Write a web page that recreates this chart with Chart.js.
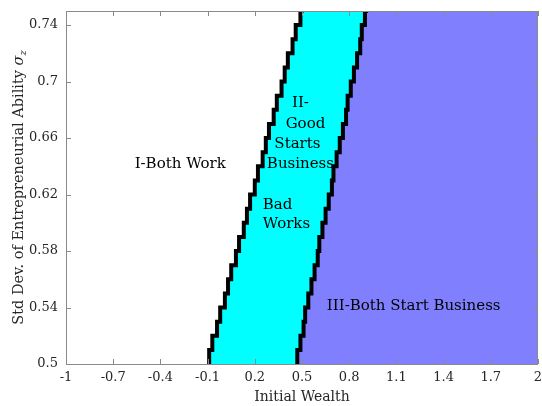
<!DOCTYPE html>
<html>
<head>
<meta charset="utf-8">
<script src="https://cdn.jsdelivr.net/npm/chart.js@4"></script>
<style>
  html, body { margin: 0; padding: 0; background: #fff; }
</style>
</head>
<body>
<canvas id="regionChart" width="542" height="406"></canvas>
<script>
// sigma grid and the two boundaries (wealth at each sigma level)
var sigmaLevels = [0.5, 0.51, 0.52, 0.53, 0.54, 0.55, 0.56, 0.57, 0.58, 0.59, 0.6, 0.61, 0.62,
                   0.63, 0.64, 0.65, 0.66, 0.67, 0.68, 0.69, 0.7, 0.71, 0.72, 0.73, 0.74, 0.75];
var leftEdge = [-0.09, -0.07, -0.04, -0.02, 0.01, 0.03, 0.05, 0.08, 0.10, 0.13, 0.15, 0.17, 0.20,
                0.22, 0.25, 0.27, 0.29, 0.32, 0.34, 0.37, 0.39, 0.41, 0.44, 0.46, 0.49, 0.51];
var rightEdge = [0.47, 0.49, 0.51, 0.52, 0.54, 0.56, 0.58, 0.60, 0.61, 0.63, 0.65, 0.67, 0.69,
                 0.70, 0.72, 0.74, 0.76, 0.78, 0.79, 0.81, 0.83, 0.85, 0.87, 0.88, 0.90, 0.92];

var xTicks = [-1, -0.7, -0.4, -0.1, 0.2, 0.5, 0.8, 1.1, 1.4, 1.7, 2];
var yTicks = [0.5, 0.54, 0.58, 0.62, 0.66, 0.7, 0.74];
var xMin = -1, xMax = 2, yMin = 0.5, yMax = 0.75;

var regionLabels = [
    { text: "I-Both Work", x: -0.274, y: 0.6416 },
    { text: "II-", x: 0.49, y: 0.6848 },
    { text: "Good", x: 0.522, y: 0.670 },
    { text: "Starts", x: 0.471, y: 0.6558 },
    { text: "Business", x: 0.49, y: 0.6416 },
    { text: "Bad", x: 0.344, y: 0.6126 },
    { text: "Works", x: 0.401, y: 0.5992 },
    { text: "III-Both Start Business", x: 1.21, y: 0.541 }
];

var serif = "'DejaVu Serif', 'Liberation Serif', serif";
var textColor = "#262626";

// staircase path through the boundary values
function stairs(xs) {
    var pts = [];
    for (var i = 0; i < xs.length - 1; i++) {
        pts.push({ x: xs[i], y: sigmaLevels[i] });
        pts.push({ x: xs[i], y: sigmaLevels[i + 1] });
    }
    pts.push({ x: xs[xs.length - 1], y: sigmaLevels[sigmaLevels.length - 1] });
    return pts;
}

var leftPts = stairs(leftEdge);
var rightPts = stairs(rightEdge);
var cyanShape = leftPts.concat(rightPts.slice().reverse());
var blueShape = rightPts.concat([{ x: xMax, y: yMax }, { x: xMax, y: yMin }]);

var decorPlugin = {
    id: "decor",
    afterDraw: function(chart) {
        var ctx = chart.ctx;
        var a = chart.chartArea;
        var xs = chart.scales.x, ys = chart.scales.y;
        ctx.save();

        // inward ticks
        ctx.strokeStyle = "#8a8a8a";
        ctx.lineWidth = 1;
        ctx.beginPath();
        xTicks.forEach(function(v) {
            var px = Math.round(xs.getPixelForValue(v)) + 0.5;
            ctx.moveTo(px, a.bottom); ctx.lineTo(px, a.bottom - 5);
            ctx.moveTo(px, a.top); ctx.lineTo(px, a.top + 5);
        });
        yTicks.forEach(function(v) {
            var py = Math.round(ys.getPixelForValue(v)) + 0.5;
            ctx.moveTo(a.left, py); ctx.lineTo(a.left + 5, py);
            ctx.moveTo(a.right, py); ctx.lineTo(a.right - 5, py);
        });
        ctx.stroke();
        ctx.strokeRect(Math.round(a.left) + 0.5, Math.round(a.top) + 0.5,
                       Math.round(a.right - a.left) - 1, Math.round(a.bottom - a.top));

        // region labels
        ctx.fillStyle = "#000";
        ctx.font = "15px " + serif;
        ctx.textAlign = "center";
        ctx.textBaseline = "middle";
        regionLabels.forEach(function(l) {
            ctx.fillText(l.text, xs.getPixelForValue(l.x), ys.getPixelForValue(l.y));
        });

        // y axis title with subscript
        var main = "Std Dev. of Entrepreneurial Ability ";
        var f1 = "14.5px " + serif, f2 = "italic 14.5px " + serif, f3 = "italic 10px " + serif;
        ctx.font = f1; var w1 = ctx.measureText(main).width;
        ctx.font = f2; var w2 = ctx.measureText("σ").width;
        ctx.font = f3; var w3 = ctx.measureText("z").width;
        var total = w1 + w2 + w3;
        ctx.translate(19, (a.top + a.bottom) / 2);
        ctx.rotate(-Math.PI / 2);
        ctx.fillStyle = textColor;
        ctx.textAlign = "left";
        ctx.textBaseline = "middle";
        var start = -total / 2;
        ctx.font = f1; ctx.fillText(main, start, 0);
        ctx.font = f2; ctx.fillText("σ", start + w1, 0);
        ctx.font = f3; ctx.fillText("z", start + w1 + w2, 4);
        ctx.restore();
    }
};

var ctx1 = document.getElementById("regionChart");

var chart1 = new Chart(ctx1, {
    type: "scatter",
    data: {
        datasets: [
            {
                label: "left boundary",
                data: leftPts,
                showLine: true,
                borderColor: "#000",
                borderWidth: 4,
                pointRadius: 0,
                fill: false
            },
            {
                label: "right boundary",
                data: rightPts,
                showLine: true,
                borderColor: "#000",
                borderWidth: 4,
                pointRadius: 0,
                fill: false
            },
            {
                label: "II",
                data: cyanShape,
                showLine: true,
                borderWidth: 0,
                borderColor: "rgba(0,0,0,0)",
                backgroundColor: "#00ffff",
                pointRadius: 0,
                fill: "shape"
            },
            {
                label: "III",
                data: blueShape,
                showLine: true,
                borderWidth: 0,
                borderColor: "rgba(0,0,0,0)",
                backgroundColor: "#8080ff",
                pointRadius: 0,
                fill: "shape"
            }
        ]
    },
    options: {
        responsive: false,
        animation: false,
        devicePixelRatio: 1,
        layout: { padding: { top: 11, right: 4, left: 0, bottom: 0 } },
        plugins: {
            legend: { display: false },
            tooltip: { enabled: false }
        },
        scales: {
            x: {
                type: "linear",
                min: xMin,
                max: xMax,
                afterBuildTicks: function(s) { s.ticks = xTicks.map(function(v) { return { value: v }; }); },
                afterFit: function(s) { s.height = 42; s.paddingLeft = 0; s.paddingRight = 0; },
                grid: { display: false, drawTicks: false },
                border: { display: false },
                ticks: {
                    callback: function(v) { return String(v); },
                    font: { family: serif, size: 13 },
                    color: textColor,
                    padding: 6,
                    maxRotation: 0
                },
                title: {
                    display: true,
                    text: "Initial Wealth",
                    font: { family: serif, size: 14 },
                    color: textColor,
                    padding: { top: 0, bottom: 0 }
                }
            },
            y: {
                type: "linear",
                min: yMin,
                max: yMax,
                afterBuildTicks: function(s) { s.ticks = yTicks.map(function(v) { return { value: v }; }); },
                afterFit: function(s) { s.width = 66; s.paddingTop = 0; s.paddingBottom = 0; },
                grid: { display: false, drawTicks: false },
                border: { display: false },
                ticks: {
                    callback: function(v) { return String(v); },
                    font: { family: serif, size: 13 },
                    color: textColor,
                    padding: 8
                }
            }
        }
    },
    plugins: [decorPlugin]
});
</script>
</body>
</html>
